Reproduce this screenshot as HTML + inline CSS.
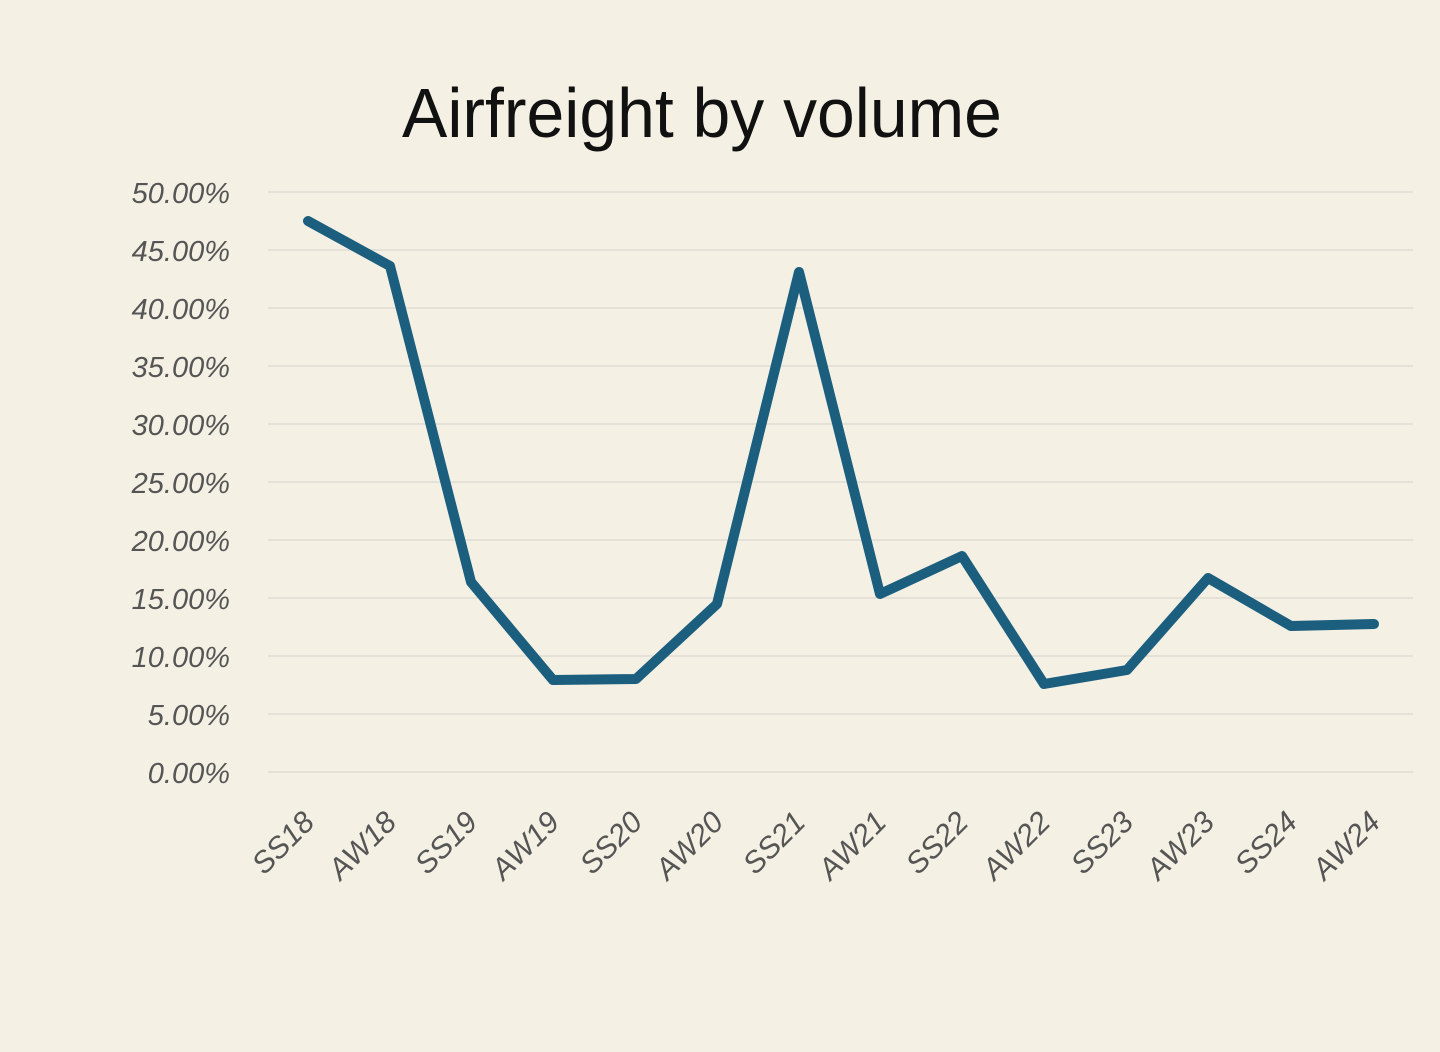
<!DOCTYPE html>
<html><head><meta charset="utf-8"><style>
html,body{margin:0;padding:0;background:#F4F0E4;}
svg{display:block;}
</style></head><body>
<svg width="1440" height="1052" viewBox="0 0 1440 1052" xmlns="http://www.w3.org/2000/svg">
<rect width="1440" height="1052" fill="#F4F0E4"/>
<text x="702" y="137" text-anchor="middle" font-family="Liberation Sans, sans-serif" font-size="70" fill="#111" transform="translate(702 0) scale(0.97 1) translate(-702 0)">Airfreight by volume</text>
<g stroke="#DEDCD4" stroke-width="1.5">
<line x1="268" y1="192" x2="1413" y2="192"/>
<line x1="268" y1="250" x2="1413" y2="250"/>
<line x1="268" y1="308" x2="1413" y2="308"/>
<line x1="268" y1="366" x2="1413" y2="366"/>
<line x1="268" y1="424" x2="1413" y2="424"/>
<line x1="268" y1="482" x2="1413" y2="482"/>
<line x1="268" y1="540" x2="1413" y2="540"/>
<line x1="268" y1="598" x2="1413" y2="598"/>
<line x1="268" y1="656" x2="1413" y2="656"/>
<line x1="268" y1="714" x2="1413" y2="714"/>
<line x1="268" y1="772" x2="1413" y2="772"/>
</g>
<g font-family="Liberation Sans, sans-serif" font-style="italic" font-size="29" fill="#555" text-anchor="end">
<text x="230" y="203">50.00%</text>
<text x="230" y="261">45.00%</text>
<text x="230" y="319">40.00%</text>
<text x="230" y="377">35.00%</text>
<text x="230" y="435">30.00%</text>
<text x="230" y="493">25.00%</text>
<text x="230" y="551">20.00%</text>
<text x="230" y="609">15.00%</text>
<text x="230" y="667">10.00%</text>
<text x="230" y="725">5.00%</text>
<text x="230" y="783">0.00%</text>
</g>
<polyline fill="none" stroke="#1B5E7E" stroke-width="10" stroke-linejoin="round" stroke-linecap="round"
points="308,221 390,266 471,582 553,680 636,679 717,604 799,272 880,594 962,556 1044,684 1127,670 1208,578 1291,626 1374,624"/>
<g font-family="Liberation Sans, sans-serif" font-style="italic" font-size="30" fill="#555" text-anchor="end">
<text transform="translate(316 824) rotate(-45)">SS18</text>
<text transform="translate(398 824) rotate(-45)">AW18</text>
<text transform="translate(479 824) rotate(-45)">SS19</text>
<text transform="translate(561 824) rotate(-45)">AW19</text>
<text transform="translate(644 824) rotate(-45)">SS20</text>
<text transform="translate(725 824) rotate(-45)">AW20</text>
<text transform="translate(807 824) rotate(-45)">SS21</text>
<text transform="translate(888 824) rotate(-45)">AW21</text>
<text transform="translate(970 824) rotate(-45)">SS22</text>
<text transform="translate(1052 824) rotate(-45)">AW22</text>
<text transform="translate(1135 824) rotate(-45)">SS23</text>
<text transform="translate(1216 824) rotate(-45)">AW23</text>
<text transform="translate(1299 824) rotate(-45)">SS24</text>
<text transform="translate(1382 824) rotate(-45)">AW24</text>
</g>
</svg>
</body></html>
